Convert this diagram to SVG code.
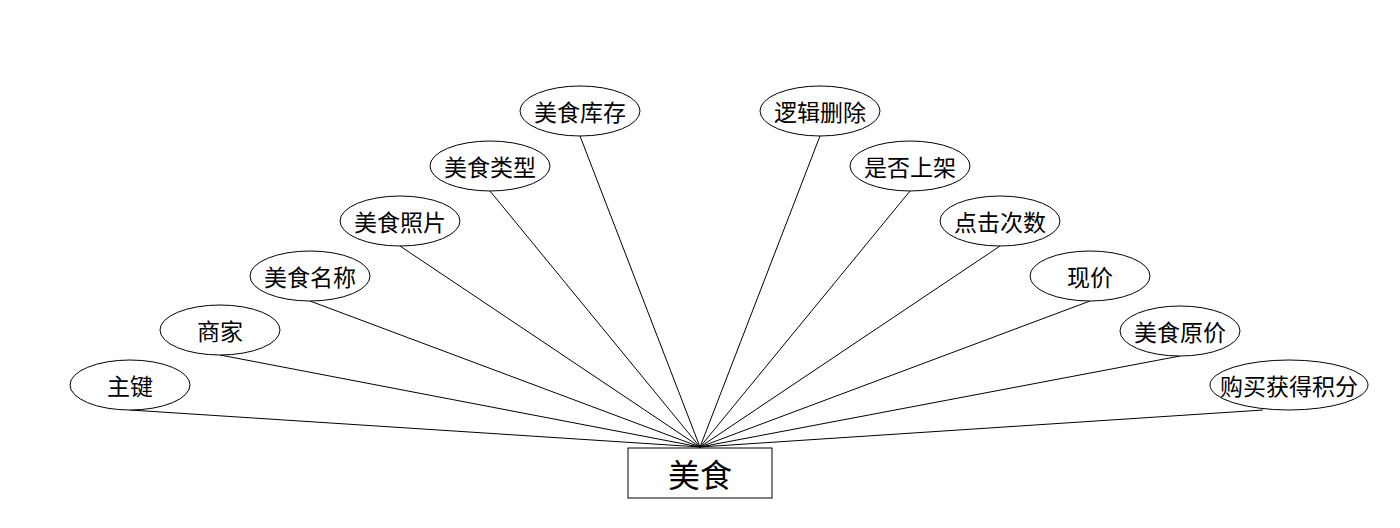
<svg xmlns="http://www.w3.org/2000/svg" width="1400" height="528" viewBox="0 0 1400 528">
<style>
.e{fill:#fff;stroke:#000;stroke-width:1}
.t{font-family:"Noto Sans CJK SC","Liberation Sans",sans-serif;font-size:23px;fill:#000;text-anchor:middle;dominant-baseline:central}
.c line{stroke:#000;stroke-width:1}
</style>
<rect width="1400" height="528" fill="#fff"/>
<g id="connectors" class="c">
<line x1="130" y1="410" x2="700" y2="447"/>
<line x1="220" y1="355" x2="700" y2="447"/>
<line x1="310" y1="301" x2="700" y2="447"/>
<line x1="400" y1="246" x2="700" y2="447"/>
<line x1="490" y1="191" x2="700" y2="447"/>
<line x1="580" y1="136" x2="700" y2="447"/>
<line x1="820" y1="136" x2="700" y2="447"/>
<line x1="910" y1="191" x2="700" y2="447"/>
<line x1="1000" y1="246" x2="700" y2="447"/>
<line x1="1090" y1="301" x2="700" y2="447"/>
<line x1="1180" y1="356" x2="700" y2="447"/>
<line x1="1263" y1="410" x2="700" y2="447"/>
</g>
<g id="n0"><ellipse class="e" cx="130" cy="385" rx="60" ry="25"/><text class="t" x="130" y="385">主键</text></g>
<g id="n1"><ellipse class="e" cx="220" cy="330" rx="60" ry="25"/><text class="t" x="220" y="330">商家</text></g>
<g id="n2"><ellipse class="e" cx="310" cy="276" rx="60" ry="25"/><text class="t" x="310" y="276">美食名称</text></g>
<g id="n3"><ellipse class="e" cx="400" cy="221" rx="60" ry="25"/><text class="t" x="400" y="221">美食照片</text></g>
<g id="n4"><ellipse class="e" cx="490" cy="166" rx="60" ry="25"/><text class="t" x="490" y="166">美食类型</text></g>
<g id="n5"><ellipse class="e" cx="580" cy="111" rx="60" ry="25"/><text class="t" x="580" y="111">美食库存</text></g>
<g id="n6"><ellipse class="e" cx="820" cy="111" rx="60" ry="25"/><text class="t" x="820" y="111">逻辑删除</text></g>
<g id="n7"><ellipse class="e" cx="910" cy="166" rx="60" ry="25"/><text class="t" x="910" y="166">是否上架</text></g>
<g id="n8"><ellipse class="e" cx="1000" cy="221" rx="60" ry="25"/><text class="t" x="1000" y="221">点击次数</text></g>
<g id="n9"><ellipse class="e" cx="1090" cy="276" rx="60" ry="25"/><text class="t" x="1090" y="276">现价</text></g>
<g id="n10"><ellipse class="e" cx="1180" cy="331" rx="60" ry="25"/><text class="t" x="1180" y="331">美食原价</text></g>
<g id="n11"><ellipse class="e" cx="1289" cy="385" rx="79" ry="25"/><text class="t" x="1289" y="385">购买获得积分</text></g>
<g id="entity"><rect x="628" y="448" width="144" height="50" fill="#fff" stroke="#000" stroke-width="1"/><text class="t" x="700" y="473" style="font-size:32px">美食</text></g>
</svg>
